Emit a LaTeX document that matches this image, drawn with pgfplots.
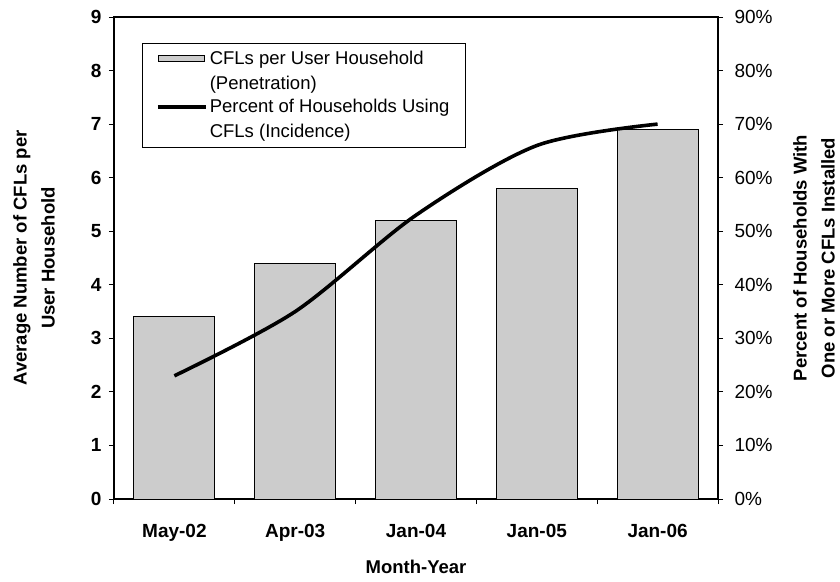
\documentclass[border=0pt]{standalone}
\usepackage{fontspec}
\setmainfont{Liberation Sans}
\usepackage{pgfplots}
\pgfplotsset{compat=1.18}
\definecolor{barfill}{gray}{0.80}
\begin{document}
\begin{tikzpicture}
\useasboundingbox (-114bp,-83bp) rectangle (726bp,499bp);
\begin{axis}[
  at={(0,0)}, anchor=south west,
  width=604bp, height=482bp, scale only axis,
  xmin=-0.5, xmax=4.5, ymin=0, ymax=9,
  ytick={0,...,9},
  ytick pos=left,
  xtick={-0.5,0.5,...,4.5},
  xticklabels={},
  xtick pos=bottom,
  extra x ticks={0,1,2,3,4},
  extra x tick labels={May-02,Apr-03,Jan-04,Jan-05,Jan-06},
  extra x tick style={major tick length=0pt, xticklabel style={yshift=-22bp}},
  tick align=outside,
  major tick length=5bp,
  axis line style={line width=1.1bp},
  every tick/.style={black, line width=1bp},
  /pgf/number format/assume math mode=true,
  tick label style={font=\bfseries\fontsize{19bp}{22bp}\selectfont},
  yticklabel style={xshift=-4bp},
  ylabel={Average Number of CFLs per\\User Household},
  ylabel style={at={(rel axis cs:0,0.5)}, yshift=80bp, anchor=center, align=center,
    font=\bfseries\fontsize{18.5bp}{28bp}\selectfont},
  xlabel={Month-Year},
  xlabel style={at={(rel axis cs:0.5,0)}, yshift=-68bp, anchor=center,
    font=\bfseries\fontsize{18.5bp}{22bp}\selectfont},
]
\addplot[ybar, bar width=81bp, fill=barfill, draw=black, line width=1bp]
  coordinates {(0,3.4) (1,4.4) (2,5.2) (3,5.8) (4,6.9)};
\end{axis}
\begin{axis}[
  at={(0,0)}, anchor=south west,
  width=604bp, height=482bp, scale only axis,
  xmin=-0.5, xmax=4.5, ymin=0, ymax=90,
  axis x line=none,
  axis y line*=right,
  ytick={0,10,...,90},
  yticklabel={\pgfmathprintnumber{\tick}\%},
  tick align=outside,
  major tick length=5bp,
  axis line style={line width=1.1bp},
  every tick/.style={black, line width=1bp},
  /pgf/number format/assume math mode=true,
  tick label style={font=\fontsize{19bp}{22bp}\selectfont},
  yticklabel style={xshift=8bp},
  ylabel={Percent of Households With\\One or More CFLs Installed},
  ylabel style={at={(rel axis cs:1,0.5)}, yshift=-96bp, anchor=center, align=center,
    font=\bfseries\fontsize{18.5bp}{28bp}\selectfont},
  legend style={at={(0.046,0.946)}, anchor=north west, draw=black, line width=0.8bp,
    font=\fontsize{18.5bp}{25bp}\selectfont, cells={align=left, anchor=west},
    inner xsep=14bp, inner ysep=6bp, row sep=4bp},
]
\addlegendimage{legend image code/.code={\draw[fill=barfill, draw=black, line width=0.8bp] (0bp,9.5bp) rectangle (46bp,15.5bp);}}
\addlegendentry{CFLs per User Household\\(Penetration)}
\addplot[smooth, line width=3.6bp, black, legend image code/.code={\draw[line width=3.6bp] (0bp,12.5bp) -- (48bp,12.5bp);}]
  coordinates {(0,23) (1,35) (2,53) (3,66) (4,70)};
\addlegendentry{Percent of Households Using\\CFLs (Incidence)}
\end{axis}
\end{tikzpicture}
\end{document}
